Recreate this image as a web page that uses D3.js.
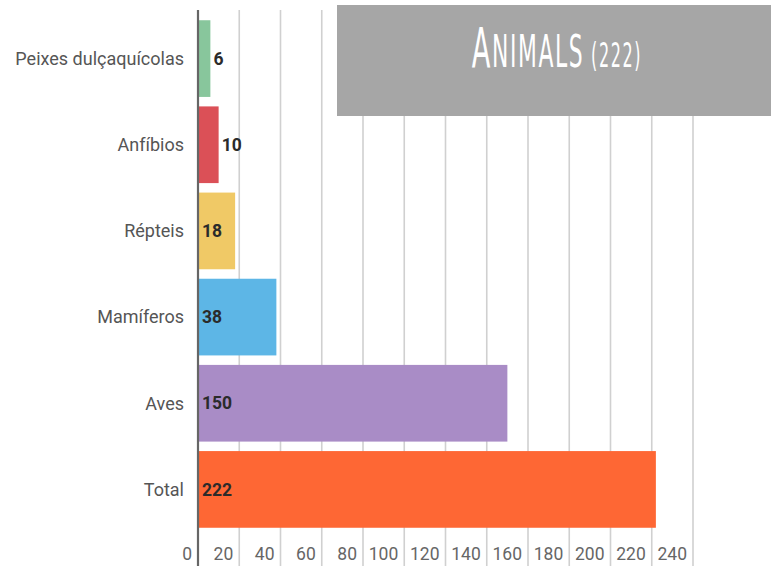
<!DOCTYPE html>
<html>
<head>
<meta charset="utf-8">
<script src="https://cdn.jsdelivr.net/npm/d3@7"></script>
<style>
  body { margin: 0; background: #fff; }
  svg { display: block; }
</style>
</head>
<body>
<svg id="chart" width="771" height="570"></svg>
<script>
const categories = ["Peixes dulçaquícolas", "Anfíbios", "Répteis", "Mamíferos", "Aves", "Total"];
const values = [6, 10, 18, 38, 150, 222];
const barColors = ["#88c69c", "#db5057", "#f0c966", "#5db6e6", "#a98cc6", "#fe6734"];
const tickValues = [0, 20, 40, 60, 80, 100, 120, 140, 160, 180, 200, 220, 240];

const svg = d3.select("#chart");

const x = d3.scaleLinear()
    .domain([0, 240])
    .range([198, 693]);

const y = d3.scaleBand()
    .domain(categories)
    .range([15.5, 532.5])
    .paddingInner(0.11)
    .paddingOuter(0.055);

// gridlines
svg.append("g")
    .selectAll("line")
    .data(tickValues.slice(1))
    .enter().append("line")
    .attr("x1", d => x(d))
    .attr("x2", d => x(d))
    .attr("y1", 10)
    .attr("y2", 566)
    .attr("stroke", "#d0d0d0")
    .attr("stroke-width", 1.6);

// title box
svg.append("rect")
    .attr("x", 337)
    .attr("y", 5)
    .attr("width", 440)
    .attr("height", 111)
    .attr("fill", "#a6a6a6");

const title = svg.append("text")
    .attr("transform", "translate(557,67) scale(0.54,1)")
    .attr("text-anchor", "middle")
    .attr("fill", "#ffffff")
    .attr("letter-spacing", 3)
    .style("font-family", "'Liberation Sans Narrow', 'DejaVu Sans Condensed', sans-serif");
title.append("tspan").attr("font-size", 56).text("A");
title.append("tspan").attr("font-size", 45).text("NIMALS");
title.append("tspan").attr("font-size", 33).text(" (222)");

// bars
svg.append("g")
    .selectAll("rect")
    .data(categories)
    .enter().append("rect")
    .attr("x", x(0))
    .attr("y", d => y(d))
    .attr("width", (d, i) => x(values[i]) - x(0))
    .attr("height", y.bandwidth())
    .attr("fill", (d, i) => barColors[i]);

// value labels
svg.append("g")
    .selectAll("text")
    .data(categories)
    .enter().append("text")
    .attr("x", (d, i) => values[i] < 15 ? x(values[i]) + 3 : x(0) + 4)
    .attr("y", d => y(d) + y.bandwidth() / 2)
    .attr("dy", "0.35em")
    .attr("fill", "#2b2b2b")
    .attr("font-size", 17.5)
    .attr("font-weight", "bold")
    .style("font-family", "Roboto, sans-serif")
    .text((d, i) => values[i]);

// category labels
svg.append("g")
    .selectAll("text")
    .data(categories)
    .enter().append("text")
    .attr("x", 184)
    .attr("y", d => y(d) + y.bandwidth() / 2)
    .attr("dy", "0.35em")
    .attr("text-anchor", "end")
    .attr("fill", "#555")
    .attr("font-size", 18)
    .style("font-family", "Roboto, sans-serif")
    .text(d => d);

// tick labels, right aligned just left of each gridline
svg.append("g")
    .selectAll("text")
    .data(tickValues)
    .enter().append("text")
    .attr("x", d => x(d) - 6)
    .attr("y", 554)
    .attr("dy", "0.35em")
    .attr("text-anchor", "end")
    .attr("fill", "#666")
    .attr("font-size", 17.5)
    .style("font-family", "Roboto, sans-serif")
    .text(d => d);

// axis line
svg.append("line")
    .attr("x1", x(0))
    .attr("x2", x(0))
    .attr("y1", 10)
    .attr("y2", 566)
    .attr("stroke", "#666")
    .attr("stroke-width", 2.2);
</script>
</body>
</html>
